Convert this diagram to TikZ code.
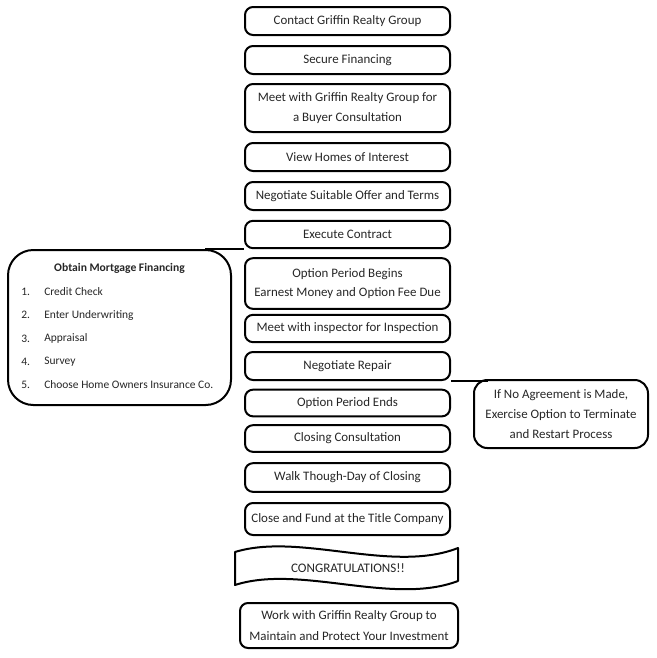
\documentclass[tikz,border=0pt]{standalone}
\usepackage{fontspec}
\setmainfont{Carlito}
\begin{document}
\begin{tikzpicture}[x=0.75pt,y=-0.75pt,
  box/.style={draw=black, line width=1.5pt, rounded corners=6pt, minimum width=153.75pt, align=center, inner sep=0pt, text=black!85, font=\fontsize{9.7}{14.6}\selectfont},
  txt/.style={inner sep=0pt, text=black!85, font=\fontsize{8.6}{10}\selectfont},
  link/.style={line width=1.2pt}]
\useasboundingbox (0,0) rectangle (657,658);
\node[box, minimum height=21pt] (contact) at (347.5,21) {Contact Griffin Realty Group};
\node[box, minimum height=21pt] (secure) at (347.5,60) {Secure Financing};
\node[box, minimum height=36pt] (meet) at (347.5,108) {Meet with Griffin Realty Group for\\a Buyer Consultation};
\node[box, minimum height=21pt] (view) at (347.5,157) {View Homes of Interest};
\node[box, minimum height=21pt] (offer) at (347.5,196) {Negotiate Suitable Offer and Terms};
\node[box, minimum height=20.5pt] (exec) at (347.5,234.5) {Execute Contract};
\node[box, minimum height=38pt] (optbeg) at (347.5,283.5) {Option Period Begins\\Earnest Money and Option Fee Due};
\node[box, minimum height=20.5pt] (insp) at (347.5,328.5) {Meet with inspector for Inspection};
\node[box, minimum height=21pt] (repair) at (347.5,366) {Negotiate Repair};
\node[box, minimum height=20pt] (optend) at (347.5,403) {Option Period Ends};
\node[box, minimum height=20pt] (closecons) at (347.5,438.5) {Closing Consultation};
\node[box, minimum height=21.5pt] (walk) at (347.5,477.5) {Walk Though-Day of Closing};
\node[box, minimum height=24pt] (fund) at (347.5,519) {Close and Fund at the Title Company};
\node[box, minimum width=163.5pt, minimum height=33.75pt, font=\fontsize{9.7}{16}\selectfont] (work) at (349,625.5) {Work with Griffin Realty Group to\\Maintain and Protect Your Investment};
% banner
\draw[line width=1.5pt, line join=round] (235,552) .. controls (300,532) and (392,574) .. (458,548)
  -- (458,581) .. controls (392,606) and (300,564) .. (235,585) -- cycle;
\node[txt, font=\fontsize{9.8}{10}\selectfont] (congr) at (348,568) {CONGRATULATIONS!!};
% left box
\node[draw=black, line width=1.5pt, rounded corners=19pt, minimum width=167.25pt, minimum height=116.25pt, inner sep=0pt] (mort) at (119.5,327.5) {};
\node[txt, font=\bfseries\fontsize{8.7}{10}\selectfont] (mtitle) at (119.5,268) {Obtain Mortgage Financing};
\foreach \n/\t/\y in {1/Credit Check/292, 2/Enter Underwriting/315, 3/Appraisal/338.5, 4/Survey/362, 5/Choose Home Owners Insurance Co./385}{
  \node[txt, anchor=west] (num\n) at (21,\y) {\n.};
  \node[txt, anchor=west] (item\n) at (44,\y) {\t};
}
\coordinate (mcorner) at (205,250);
\draw[link] (exec.south west) -- (exec.south west -| mcorner);
% right box
\node[box, minimum width=130.5pt, minimum height=51pt, rounded corners=10pt, font=\fontsize{9.7}{15.3}\selectfont] (agree) at (561,414) {If No Agreement is Made,\\Exercise Option to Terminate\\and Restart Process};
\coordinate (acorner) at (488,380);
\draw[link] (repair.south east) -- (repair.south east -| acorner);
\end{tikzpicture}
\end{document}
